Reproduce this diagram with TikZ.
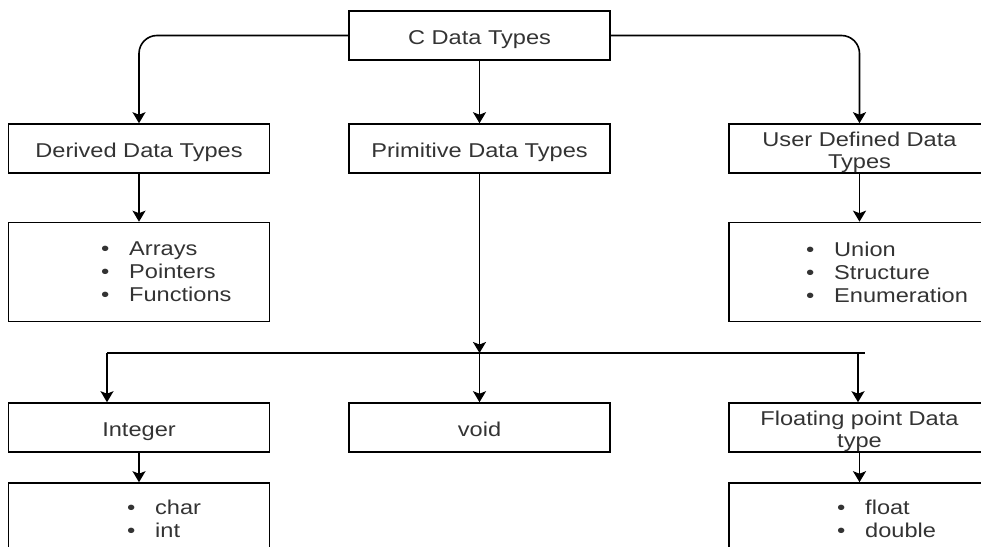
\documentclass[tikz,border=0pt]{standalone}
\usepackage{fontspec}
\setmainfont{Liberation Sans}[FakeStretch=1.18]
\usetikzlibrary{arrows.meta}
\definecolor{txt}{HTML}{333333}
\tikzset{
  box/.style={draw=black, line width=1.6pt, minimum width=261pt, minimum height=49pt, inner sep=0pt, text=txt, font=\fontsize{20}{22}\selectfont, align=center, text height=17.4pt, text depth=0pt},
  twoline/.style={text height=39.4pt, text depth=0pt},
  listbox/.style={box, minimum height=99pt},
  listtxt/.style={anchor=west, inner sep=0pt, text=txt, font=\fontsize{20}{23}\selectfont, align=left},
  conn/.style={line width=1.6pt, -{Stealth[length=11pt,width=13pt,inset=2.5pt]}},
  bus/.style={line width=1.6pt}
}
\newcommand{\bul}{\makebox[28pt][l]{•}}
\begin{document}
\begin{tikzpicture}[x=1pt,y=-1pt]
\useasboundingbox (0,0) rectangle (981,546);
\clip (0,0) rectangle (981,546);
% level 0
\node[box] (root) at (479.5,35.5) {C Data Types};
% level 1
\node[box] (derived) at (139,148.5) {Derived Data Types};
\node[box] (prim) at (479.5,148.5) {Primitive Data Types};
\node[box, twoline] (user) at (859.5,148.5) {User Defined Data\\Types};
% lists
\node[listbox] (derivedlist) at (139,272) {};
\node[listtxt] (derivedtxt) at (101,272) {\bul Arrays\\\bul Pointers\\\bul Functions};
\node[listbox] (userlist) at (859.5,272) {};
\node[listtxt] (usertxt) at (806,272) {\bul Union\\\bul Structure\\\bul Enumeration};
% level 2
\node[box] (integer) at (139,427.5) {Integer};
\node[box] (void) at (479.5,427.5) {void};
\node[box, twoline] (float) at (859.5,427.5) {Floating point Data\\type};
\node[listbox] (intlist) at (139,532.5) {};
\node[listtxt] (inttxt) at (127,518.5) {\bul char\\\bul int};
\node[listbox] (floatlist) at (859.5,532.5) {};
\node[listtxt] (floattxt) at (837,518.5) {\bul float\\\bul double};
% connectors
\draw[conn, rounded corners=18pt] (root.west) -| (derived.north);
\draw[conn] (root.south) -- (prim.north);
\draw[conn, rounded corners=18pt] (root.east) -| (user.north);
\draw[conn] (derived.south) -- (derivedlist.north);
\draw[conn] (user.south) -- (userlist.north);
% bus
\coordinate (busL) at (107,353);
\coordinate (busM) at (479.5,353);
\coordinate (busF) at (858,353);
\coordinate (busR) at (865,353);
\draw[conn] (prim.south) -- (busM);
\draw[bus] (busL) -- (busR);
\draw[conn] (busL) -- (busL |- integer.north);
\draw[conn] (busM) -- (void.north);
\draw[conn] (busF) -- (busF |- float.north);
\draw[conn] (integer.south) -- (intlist.north);
\draw[conn] (float.south) -- (floatlist.north);
\end{tikzpicture}
\end{document}
